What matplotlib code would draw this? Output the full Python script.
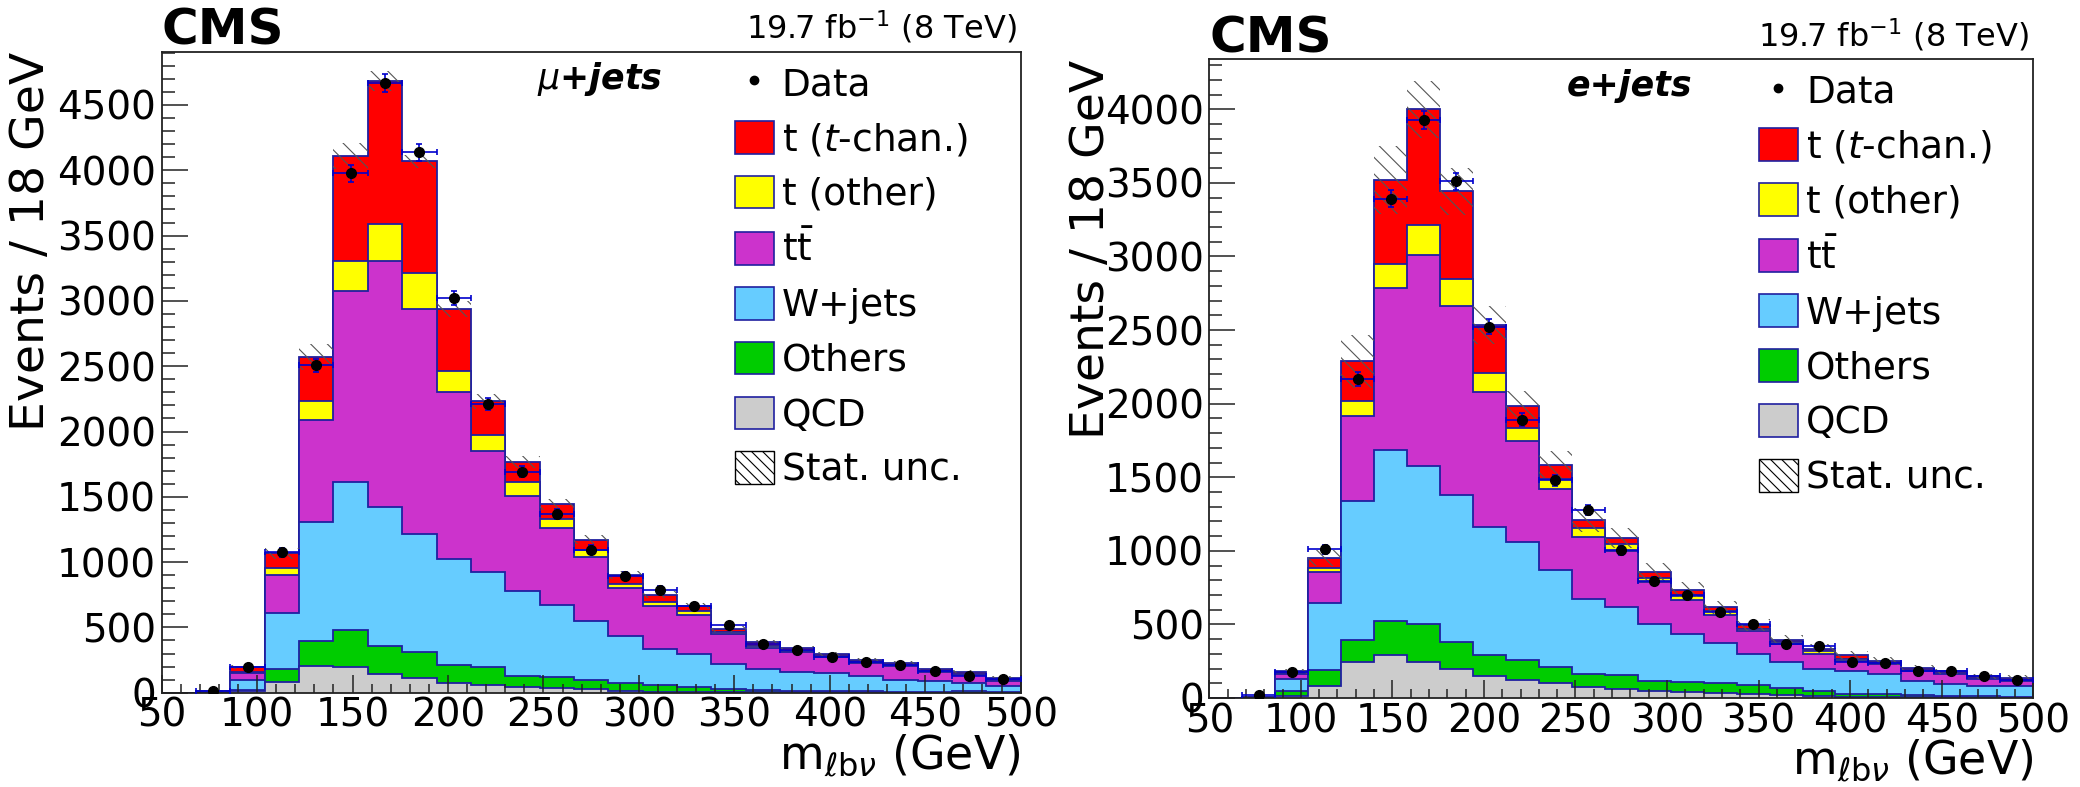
import numpy as np
import matplotlib
matplotlib.use("Agg")
import matplotlib.pyplot as plt
from matplotlib.patches import Patch
from matplotlib.lines import Line2D
from matplotlib.ticker import MultipleLocator

plt.rcParams['font.family'] = ['DejaVu Sans']
plt.rcParams['mathtext.fontset'] = 'dejavusans'
plt.rcParams['hatch.linewidth'] = 0.8

# m_lbv binning: 25 bins of 18 GeV between 50 and 500 GeV
edges = np.arange(50, 501, 18)

# mu+jets channel, per-process yields per bin
mu_qcd = [0, 0, 10, 84, 206, 195, 140, 109, 71, 58, 46, 33, 25, 10, 8, 6, 5, 4, 3, 2, 2, 1, 1, 1, 0]
mu_others = [0, 0, 12, 94, 188, 283, 218, 203, 140, 140, 84, 84, 72, 61, 50, 40, 26, 15, 12, 10, 8, 7, 5, 14, 4]
mu_wjets = [0, 8, 78, 434, 914, 1137, 1065, 907, 816, 725, 647, 556, 449, 361, 280, 254, 186, 164, 147, 136, 119, 92, 81, 62, 51]
mu_ttbar = [0, 2, 50, 292, 777, 1462, 1885, 1716, 1273, 931, 731, 589, 492, 368, 324, 296, 233, 160, 149, 122, 99, 104, 75, 60, 37]
mu_tother = [0, 0, 12, 48, 146, 231, 280, 277, 162, 123, 107, 65, 58, 33, 30, 27, 12, 12, 9, 8, 6, 6, 5, 5, 5]
mu_tchan = [0, 2, 36, 115, 338, 800, 1097, 857, 476, 254, 154, 115, 77, 67, 58, 42, 28, 31, 19, 17, 16, 17, 13, 19, 18]
mu_data = [0, 10, 195, 1075, 2508, 3977, 4670, 4138, 3023, 2208, 1692, 1369, 1096, 892, 788, 661, 519, 373, 327, 277, 238, 212, 165, 127, 104]
mu_unc = [0, 5, 15, 40, 100, 100, 75, 50, 60, 55, 46, 40, 35, 30, 28, 25, 22, 18, 16, 15, 14, 13, 12, 11, 10]

# e+jets channel, per-process yields per bin
e_qcd = [0, 0, 11, 79, 243, 295, 245, 197, 152, 125, 102, 73, 63, 50, 39, 35, 30, 22, 15, 10, 8, 6, 5, 3, 2]
e_others = [0, 0, 34, 109, 154, 226, 261, 182, 143, 136, 107, 92, 96, 63, 68, 65, 55, 43, 30, 20, 17, 14, 11, 9, 8]
e_wjets = [0, 5, 84, 458, 939, 1164, 1069, 1001, 870, 801, 664, 510, 458, 391, 331, 277, 213, 182, 150, 150, 135, 96, 82, 70, 70]
e_ttbar = [0, 3, 36, 209, 582, 1103, 1432, 1281, 917, 685, 548, 421, 383, 284, 230, 188, 157, 118, 107, 72, 68, 64, 62, 48, 38]
e_tother = [0, 0, 5, 29, 103, 164, 206, 189, 127, 85, 69, 58, 45, 27, 27, 25, 15, 15, 16, 10, 8, 8, 8, 6, 6]
e_tchan = [0, 2, 11, 68, 267, 569, 787, 592, 325, 154, 96, 55, 41, 41, 41, 25, 26, 15, 18, 29, 16, 17, 12, 11, 14]
e_data = [0, 18, 175, 1009, 2168, 3391, 3928, 3511, 2524, 1891, 1480, 1278, 1004, 795, 702, 587, 502, 370, 353, 243, 237, 184, 184, 147, 121]
e_unc = [0, 5, 15, 55, 180, 230, 195, 160, 130, 100, 90, 80, 70, 60, 50, 45, 40, 35, 30, 28, 25, 22, 20, 18, 16]

process_labels = ['QCD', 'Others', 'W+jets', r'$\mathrm{t\bar{t}}$', 't (other)', r't ($\mathit{t}$-chan.)']
process_colors = ['#cccccc', '#00cc00', '#66ccff', '#cc33cc', '#ffff00', '#ff0000']
outline = '#2020a0'


def draw_panel(ax, components, data, unc, ymax, channel):
    cum = np.cumsum(np.array(components, dtype=float), axis=0)
    # draw cumulative histograms from the top of the stack down
    for i in range(len(components) - 1, -1, -1):
        ax.stairs(cum[i], edges, baseline=0, fill=True,
                  facecolor=process_colors[i], edgecolor=outline, linewidth=1.3)
    total = cum[-1]
    unc = np.array(unc, dtype=float)
    ax.stairs(total + unc, edges, baseline=total - unc, fill=True,
              facecolor='none', edgecolor='#555555', linewidth=0, hatch='\\\\')

    centers = 0.5 * (edges[:-1] + edges[1:])
    data = np.array(data, dtype=float)
    keep = data > 0
    ax.errorbar(centers[keep], data[keep], xerr=9, yerr=np.sqrt(data[keep]),
                fmt='o', color='black', markersize=7, ecolor='#0000cc',
                elinewidth=1.2, capsize=2.5, capthick=1.2, zorder=5)

    ax.set_xlim(50, 500)
    ax.set_ylim(0, ymax)
    ax.xaxis.set_major_locator(MultipleLocator(50))
    ax.xaxis.set_minor_locator(MultipleLocator(10))
    ax.yaxis.set_major_locator(MultipleLocator(500))
    ax.yaxis.set_minor_locator(MultipleLocator(100))
    ax.tick_params(axis='both', which='both', direction='in', top=False, right=False,
                   labelsize=28, width=1.1, color='#222222')
    ax.tick_params(axis='x', which='major', length=13, pad=3)
    ax.tick_params(axis='x', which='minor', length=6.5)
    ax.tick_params(axis='y', which='major', length=19, pad=4)
    ax.tick_params(axis='y', which='minor', length=9)
    for s in ax.spines.values():
        s.set_linewidth(1.3)
        s.set_color('#222222')

    ax.set_xlabel(r'$\mathrm{m}_{\ell\mathrm{b}\nu}$ (GeV)', fontsize=33, loc='right')
    ax.set_ylabel('Events / 18 GeV', fontsize=34, loc='top')
    ax.xaxis.set_label_coords(1.0, -0.062)

    ax.text(0.0, 1.011, 'CMS', transform=ax.transAxes, fontsize=36,
            fontweight='bold', ha='left', va='baseline')
    ax.text(0.995, 1.02, r'19.7 fb$^{-1}$ (8 TeV)', transform=ax.transAxes,
            fontsize=23, ha='right', va='baseline')
    ax.text(0.51, 0.958, channel, transform=ax.transAxes, fontsize=25,
            fontweight='bold', style='italic', ha='center', va='center')

    handles = [Line2D([], [], marker='o', color='black', linestyle='none', markersize=6)]
    labels = ['Data']
    for i in range(len(components) - 1, -1, -1):
        handles.append(Patch(facecolor=process_colors[i], edgecolor=outline, linewidth=1.2))
        labels.append(process_labels[i])
    handles.append(Patch(facecolor='white', edgecolor='black', linewidth=1.0, hatch='\\\\\\'))
    labels.append('Stat. unc.')
    ax.legend(handles, labels, loc='upper left', bbox_to_anchor=(0.667, 0.978),
              fontsize=27, frameon=False, borderpad=0, borderaxespad=0,
              handlelength=1.04, handleheight=0.97, handletextpad=0.22,
              labelspacing=0.47)


fig = plt.figure(figsize=(20.8, 7.87), dpi=100)
ax_mu = fig.add_axes([0.0777, 0.1198, 0.4130, 0.8145])
ax_e = fig.add_axes([0.5814, 0.1131, 0.3961, 0.8116])

draw_panel(ax_mu,
           [mu_qcd, mu_others, mu_wjets, mu_ttbar, mu_tother, mu_tchan],
           mu_data, mu_unc, 4908, r'$\mu$+jets')
ax_mu.yaxis.set_label_coords(-0.125, 1.0)

draw_panel(ax_e,
           [e_qcd, e_others, e_wjets, e_ttbar, e_tother, e_tchan],
           e_data, e_unc, 4340, 'e+jets')
ax_e.yaxis.set_label_coords(-0.1155, 1.0)

fig.savefig('out.png', dpi=100)
